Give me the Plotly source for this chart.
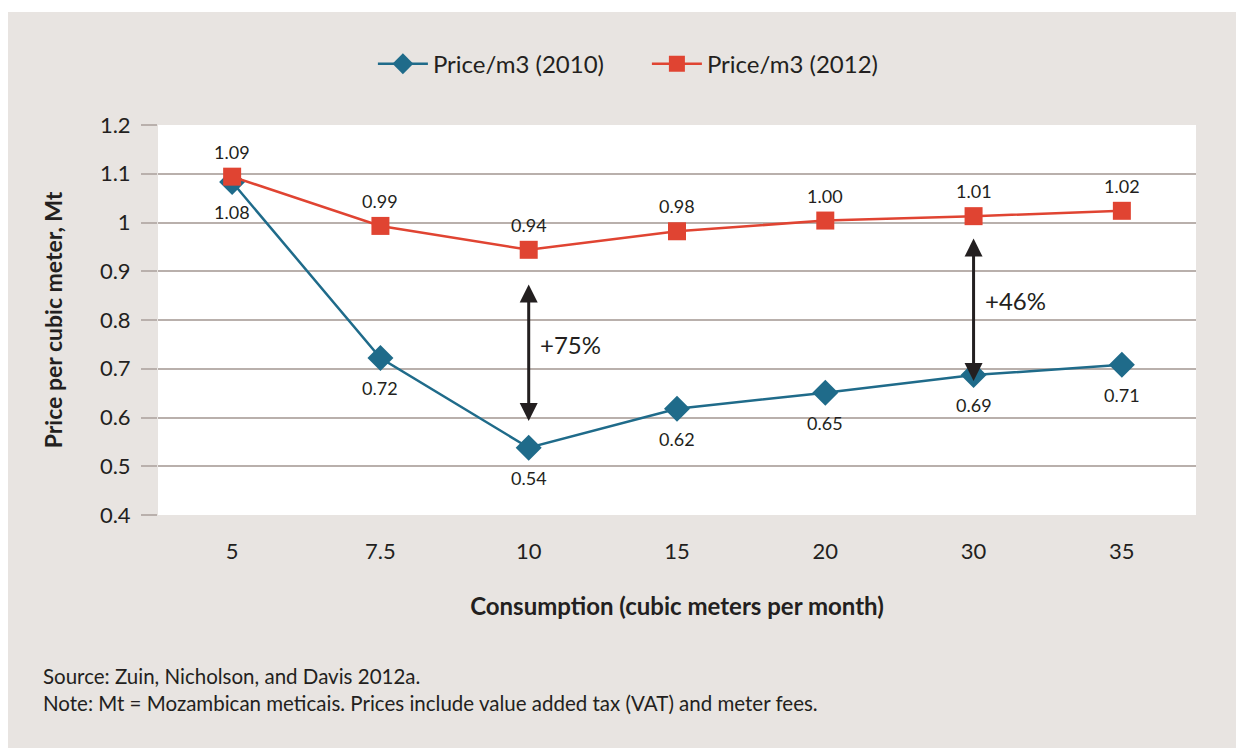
import plotly.graph_objects as go

categories = ["5", "7.5", "10", "15", "20", "30", "35"]
price_2010 = [1.083, 0.722, 0.538, 0.618, 0.651, 0.687, 0.708]
price_2012 = [1.094, 0.993, 0.944, 0.982, 1.004, 1.013, 1.024]
labels_2010 = ["1.08", "0.72", "0.54", "0.62", "0.65", "0.69", "0.71"]
labels_2012 = ["1.09", "0.99", "0.94", "0.98", "1.00", "1.01", "1.02"]
y_ticks = [0.4, 0.5, 0.6, 0.7, 0.8, 0.9, 1.0, 1.1, 1.2]
y_tick_text = ["0.4", "0.5", "0.6", "0.7", "0.8", "0.9", "1", "1.1", "1.2"]

# arrows: (category, low end, high end, label, label y)
arrows = [("10", 0.593, 0.876, "+75%", 0.749), ("30", 0.675, 0.970, "+46%", 0.841)]

notes = [
    "Source: Zuin, Nicholson, and Davis 2012a.",
    "Note: Mt = Mozambican meticais. Prices include value added tax (VAT) and meter fees.",
]

FONT = "Lato"
TXT = "#231f20"
C2010 = "#1f6b8a"
C2012 = "#e04432"
GRID = "#b9b0ac"
BG = "#e8e4e1"

fig = go.Figure()
fig.add_trace(go.Scatter(
    x=categories, y=price_2010, name="Price/m3 (2010)", mode="lines+markers",
    line=dict(color=C2010, width=2.5),
    marker=dict(symbol="diamond", size=20, color=C2010),
))
fig.add_trace(go.Scatter(
    x=categories, y=price_2012, name="Price/m3 (2012)", mode="lines+markers",
    line=dict(color=C2012, width=2.5),
    marker=dict(symbol="square", size=18, color=C2012),
))

annotations = []
for i, (v, t) in enumerate(zip(price_2012, labels_2012)):
    annotations.append(dict(x=i, y=v, text=t, showarrow=False, yshift=25,
                            font=dict(family=FONT, size=18, color=TXT)))
for i, (v, t) in enumerate(zip(price_2010, labels_2010)):
    annotations.append(dict(x=i, y=v, text=t, showarrow=False, yshift=-30,
                            font=dict(family=FONT, size=18, color=TXT)))

for cat, lo, hi, lab, ly in arrows:
    idx = categories.index(cat)
    annotations.append(dict(
        x=idx, y=lo, ax=idx, ay=hi, xref="x", yref="y", axref="x", ayref="y",
        text="", showarrow=True, arrowside="end+start", arrowhead=2,
        arrowsize=1.2, arrowwidth=3, arrowcolor=TXT,
    ))
    annotations.append(dict(
        x=idx, y=ly, text=lab, showarrow=False, xanchor="left", xshift=9,
        font=dict(family=FONT, size=24, color=TXT),
    ))

for k, note in enumerate(notes):
    annotations.append(dict(
        xref="paper", yref="paper", x=-0.1127, y=-0.4128 - 0.0692 * k,
        xanchor="left", yanchor="middle", align="left", showarrow=False,
        text=note, font=dict(family=FONT, size=20.5, color=TXT),
    ))

shapes = [
    dict(type="rect", xref="paper", yref="paper", x0=-0.1445, x1=1.1, y0=-0.7, y1=1.2897,
         fillcolor=BG, line=dict(width=0), layer="below"),
    dict(type="rect", xref="paper", yref="paper", x0=0, x1=1, y0=0, y1=1,
         fillcolor="white", line=dict(width=0), layer="below"),
]

fig.update_layout(
    width=1244, height=748,
    margin=dict(l=150, r=56, t=117, b=241),
    paper_bgcolor="white", plot_bgcolor="white",
    font=dict(family=FONT, color=TXT),
    showlegend=True,
    legend=dict(orientation="h", x=0.471, xanchor="center", y=1.156, yanchor="middle",
                font=dict(family=FONT, size=24, color=TXT), bgcolor="rgba(0,0,0,0)",
                entrywidth=209, entrywidthmode="pixels",
                itemwidth=50, tracegroupgap=0),
    annotations=annotations, shapes=shapes,
    xaxis=dict(type="category", categoryorder="array", categoryarray=categories,
               range=[-0.5, 6.5],
               showgrid=False, showline=False, zeroline=False,
               ticks="outside", ticklen=17, tickcolor="rgba(0,0,0,0)",
               tickfont=dict(family=FONT, size=22, color=TXT),
               title=dict(text="<b>Consumption (cubic meters per month)</b>", standoff=34,
                          font=dict(family=FONT, size=24, color=TXT))),
    yaxis=dict(range=[0.4, 1.2], tickvals=y_ticks, ticktext=y_tick_text,
               showgrid=True, gridcolor=GRID, gridwidth=2, zeroline=False,
               showline=False, ticks="outside", ticklen=16, tickcolor=GRID, tickwidth=2,
               ticklabelstandoff=6,
               tickfont=dict(family=FONT, size=22, color=TXT),
               title=dict(text="<b>Price per cubic meter, Mt</b>", standoff=30,
                          font=dict(family=FONT, size=23, color=TXT))),
)

fig.write_html("out.html")
